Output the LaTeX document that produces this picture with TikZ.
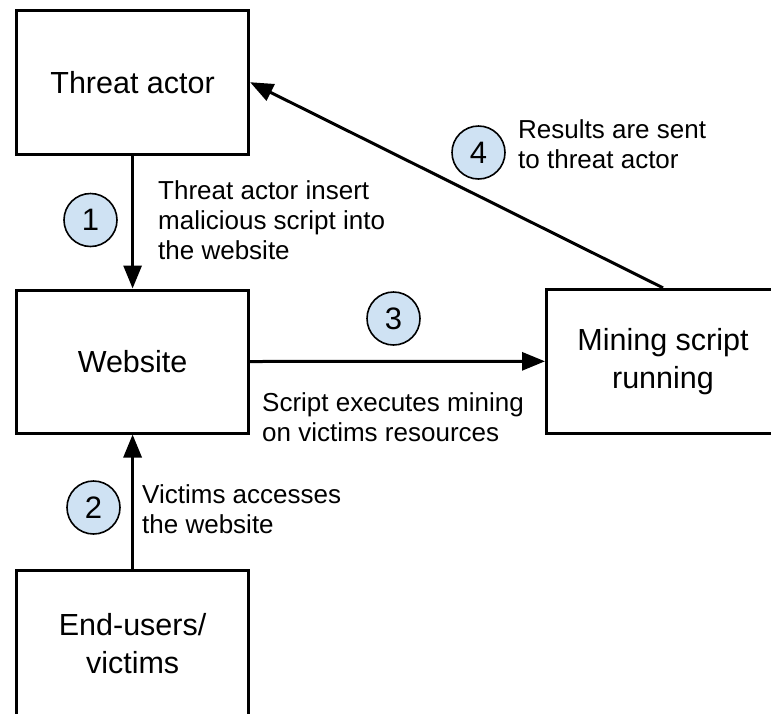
\documentclass[tikz,border=0pt]{standalone}
\usepackage{fontspec}
\setmainfont{Liberation Sans}
\usetikzlibrary{arrows.meta}
\definecolor{stepfill}{HTML}{CFE2F3}
\tikzset{
  box/.style={draw, line width=3pt, minimum width=232pt, minimum height=144pt,
    inner sep=0pt, align=center, font=\fontsize{30.5}{38}\selectfont},
  flow/.style={line width=3pt, -{Triangle[length=23pt,width=18pt]}},
  badge/.style={circle, draw, line width=1.6pt, fill=stepfill, minimum size=53pt,
    inner sep=0pt, font=\fontsize{31}{36}\selectfont},
  note/.style={anchor=north west, inner sep=0pt, align=left,
    font=\fontsize{26}{30}\selectfont},
}
\begin{document}
\begin{tikzpicture}[x=1pt, y=-1pt]
  \useasboundingbox (0,0) rectangle (771,713);
  \clip (0,0) rectangle (771,713);

  % actors and systems
  \node[box] (actor) at (132.6,82.2) {Threat actor};
  \node[box, minimum height=143pt] (site) at (132.6,361.5) {Website};
  \node[box, minimum height=148pt] (users) at (132.6,644) {End-users/\\victims};
  \node[box, minimum width=233pt] (miner) at (663,361.3) {Mining script\\running};

  % flows
  \draw[flow] (actor.south) -- (site.north);
  \draw[flow] (users.north) -- (site.south);
  \draw[flow] (site.east) -- (miner.west);
  \draw[flow] (miner.north) -- (actor.east);

  % step numbers
  \node[badge] (n1) at (90.5,220) {1};
  \node[badge] (n2) at (93.5,507.5) {2};
  \node[badge] (n3) at (393.5,318.5) {3};
  \node[badge] (n4) at (478.5,152.5) {4};

  % step descriptions
  \node[note] (t1) at (158,180) {Threat actor insert\\malicious script into\\the website};
  \node[note] (t2) at (142,484) {Victims accesses\\the website};
  \node[note] (t3) at (262,392) {Script executes mining\\on victims resources};
  \node[note] (t4) at (518,119) {Results are sent\\to threat actor};
\end{tikzpicture}
\end{document}
